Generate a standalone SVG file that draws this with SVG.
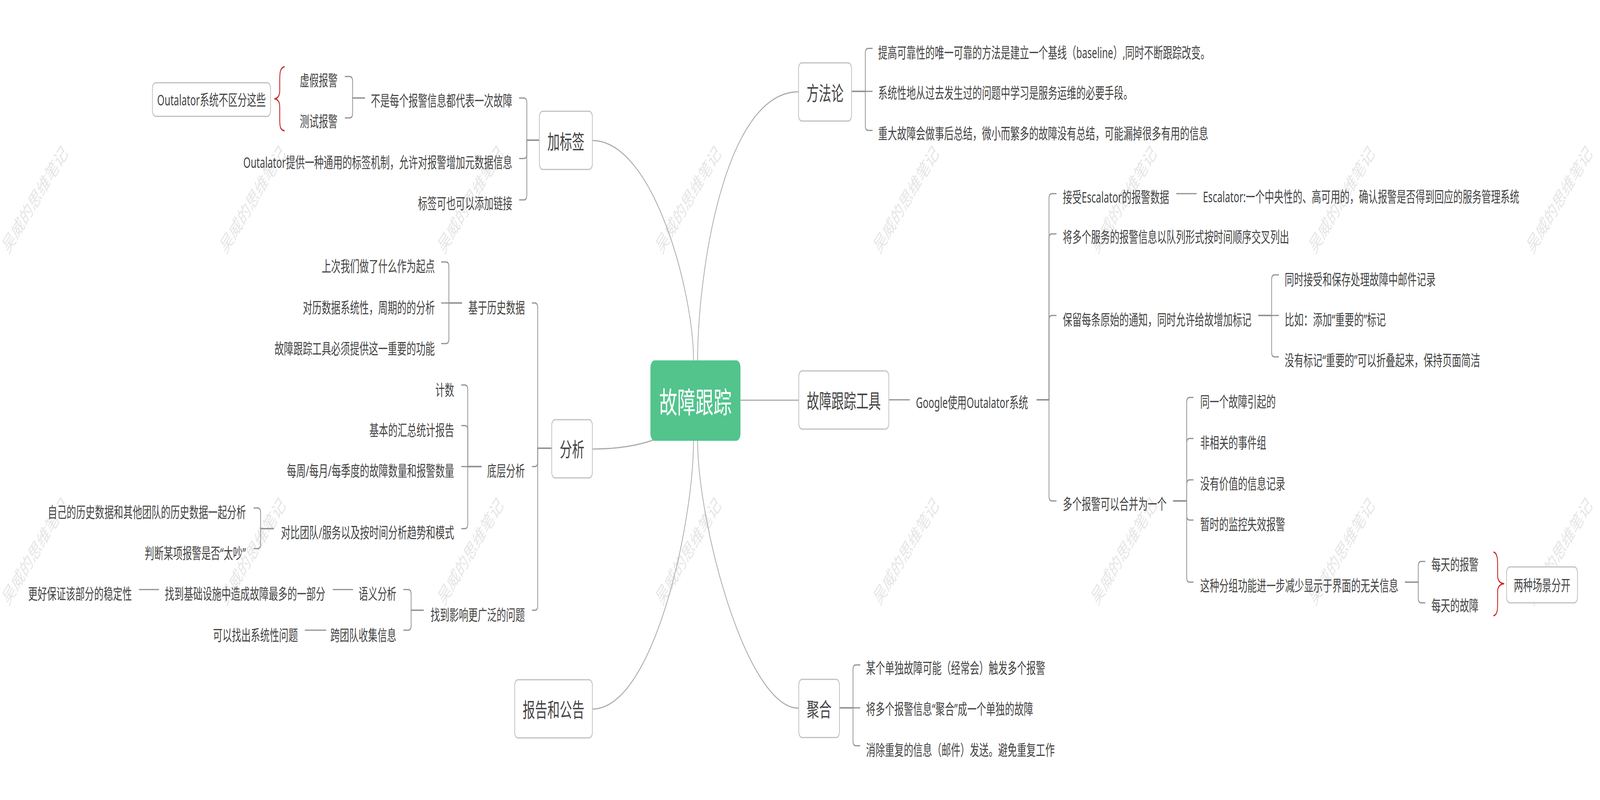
<svg xmlns="http://www.w3.org/2000/svg" width="6612" height="2049" viewBox="0 0 6612 2049" preserveAspectRatio="none">
<style>
svg{width:100vw;height:100vh;overflow:hidden}
.t{font-family:'Noto Sans','Noto Sans CJK SC',sans-serif;font-size:39px;fill:#444}
.e{text-anchor:end}
.b{font-size:51px;text-anchor:middle}
.box{fill:#fff;stroke:#c0c0c0;stroke-width:3}
.c{fill:none;stroke:#909090;stroke-width:3}
.m{fill:none;stroke:#ababab;stroke-width:3}
.br{fill:none;stroke:#c62828;stroke-width:3.5}
.wm{font-family:'Noto Sans CJK SC',sans-serif;font-size:51px;fill:#e6e6e6;text-anchor:middle;dominant-baseline:central}
</style>
<rect width="6612" height="2049" fill="#fff"/>
<g id="watermarks">
<text class="wm" x="142" y="508" transform="rotate(-46 142 508)">吴威的思维笔记</text>
<text class="wm" x="1042" y="508" transform="rotate(-46 1042 508)">吴威的思维笔记</text>
<text class="wm" x="1942" y="508" transform="rotate(-46 1942 508)">吴威的思维笔记</text>
<text class="wm" x="2842" y="508" transform="rotate(-46 2842 508)">吴威的思维笔记</text>
<text class="wm" x="3742" y="508" transform="rotate(-46 3742 508)">吴威的思维笔记</text>
<text class="wm" x="4642" y="508" transform="rotate(-46 4642 508)">吴威的思维笔记</text>
<text class="wm" x="5542" y="508" transform="rotate(-46 5542 508)">吴威的思维笔记</text>
<text class="wm" x="6442" y="508" transform="rotate(-46 6442 508)">吴威的思维笔记</text>
<text class="wm" x="142" y="1409" transform="rotate(-46 142 1409)">吴威的思维笔记</text>
<text class="wm" x="1042" y="1409" transform="rotate(-46 1042 1409)">吴威的思维笔记</text>
<text class="wm" x="1942" y="1409" transform="rotate(-46 1942 1409)">吴威的思维笔记</text>
<text class="wm" x="2842" y="1409" transform="rotate(-46 2842 1409)">吴威的思维笔记</text>
<text class="wm" x="3742" y="1409" transform="rotate(-46 3742 1409)">吴威的思维笔记</text>
<text class="wm" x="4642" y="1409" transform="rotate(-46 4642 1409)">吴威的思维笔记</text>
<text class="wm" x="5542" y="1409" transform="rotate(-46 5542 1409)">吴威的思维笔记</text>
<text class="wm" x="6442" y="1409" transform="rotate(-46 6442 1409)">吴威的思维笔记</text>
</g>
<g id="connectors">
<path class="m" d="M2448,360 C2699,360 2866,746 2866,923"/>
<path class="m" d="M3301,235 C2990,235 2883,707 2883,923"/>
<path class="m" d="M2448,1150 C2560,1150 2640,1140 2700,1127"/>
<path class="m" d="M2448,1816 C2700,1816 2866,1342 2866,1128"/>
<path class="m" d="M3301,1814 C3085,1814 2883,1342 2883,1128"/>
<path class="m" d="M3060,1025 H3301"/>
<path class="c" d="M2231,359 H2177 V263 Q2177,251 2165,251 H2145"/>
<path class="c" d="M2231,359 H2177 V394 Q2177,406 2165,406 H2145"/>
<path class="c" d="M2231,359 H2177 V500 Q2177,512 2165,512 H2145"/>
<path class="c" d="M1508,251 H1457 V208 Q1457,196 1445,196 H1425"/>
<path class="c" d="M1508,251 H1457 V290 Q1457,302 1445,302 H1425"/>
<path class="c" d="M2280,1148 H2222 V788 Q2222,776 2210,776 H2198"/>
<path class="c" d="M2280,1148 H2222 V1183 Q2222,1195 2210,1195 H2198"/>
<path class="c" d="M2280,1148 H2222 V1551 Q2222,1563 2210,1563 H2198"/>
<path class="c" d="M1909,776 H1855 V683 Q1855,671 1843,671 H1823"/>
<path class="c" d="M1909,776 H1823"/>
<path class="c" d="M1909,776 H1855 V868 Q1855,880 1843,880 H1823"/>
<path class="c" d="M1990,1195 H1933 V998 Q1933,986 1921,986 H1906"/>
<path class="c" d="M1990,1195 H1933 V1102 Q1933,1090 1921,1090 H1906"/>
<path class="c" d="M1990,1195 H1906"/>
<path class="c" d="M1990,1195 H1933 V1342 Q1933,1354 1921,1354 H1906"/>
<path class="c" d="M1132,1354 H1077 V1313 Q1077,1301 1065,1301 H1048"/>
<path class="c" d="M1132,1354 H1077 V1393 Q1077,1405 1065,1405 H1048"/>
<path class="c" d="M1751,1563 H1699 V1522 Q1699,1510 1687,1510 H1667"/>
<path class="c" d="M1751,1563 H1699 V1602 Q1699,1614 1687,1614 H1667"/>
<path class="c" d="M1459,1510 H1375"/>
<path class="c" d="M657,1510 H574"/>
<path class="c" d="M1348,1614 H1260"/>
<path class="c" d="M3520,234 H3576 V136 Q3576,124 3588,124 H3606"/>
<path class="c" d="M3520,234 H3606"/>
<path class="c" d="M3520,234 H3576 V322 Q3576,334 3588,334 H3606"/>
<path class="c" d="M3673,1024 H3760"/>
<path class="c" d="M4284,1024 H4335 V508 Q4335,496 4347,496 H4366"/>
<path class="c" d="M4284,1024 H4335 V611 Q4335,599 4347,599 H4366"/>
<path class="c" d="M4284,1024 H4335 V820 Q4335,808 4347,808 H4366"/>
<path class="c" d="M4284,1024 H4335 V1271 Q4335,1283 4347,1283 H4366"/>
<path class="c" d="M4861,496 H4945"/>
<path class="c" d="M5200,808 H5255 V716 Q5255,704 5267,704 H5285"/>
<path class="c" d="M5200,808 H5285"/>
<path class="c" d="M5200,808 H5255 V902 Q5255,914 5267,914 H5285"/>
<path class="c" d="M4848,1283 H4904 V1030 Q4904,1018 4916,1018 H4932"/>
<path class="c" d="M4848,1283 H4904 V1135 Q4904,1123 4916,1123 H4932"/>
<path class="c" d="M4848,1283 H4904 V1241 Q4904,1229 4916,1229 H4932"/>
<path class="c" d="M4848,1283 H4904 V1320 Q4904,1332 4916,1332 H4932"/>
<path class="c" d="M4848,1283 H4904 V1479 Q4904,1491 4916,1491 H4932"/>
<path class="c" d="M5806,1491 H5861 V1450 Q5861,1438 5873,1438 H5890"/>
<path class="c" d="M5806,1491 H5861 V1532 Q5861,1544 5873,1544 H5890"/>
<path class="c" d="M3467,1813 H3525 V1715 Q3525,1703 3537,1703 H3555"/>
<path class="c" d="M3467,1813 H3555"/>
<path class="c" d="M3467,1813 H3525 V1898 Q3525,1910 3537,1910 H3555"/>
<path class="br" d="M1176,171 C1158,173 1156,185 1156,205 L1156,232 C1156,246 1148,252 1134,253 C1148,254 1156,260 1156,274 L1156,305 C1156,325 1158,333 1176,335"/>
<path class="br" d="M6172,1414 C6186,1416 6189,1428 6189,1448 L6189,1474 C6189,1487 6198,1494 6216,1495 C6198,1496 6189,1503 6189,1516 L6189,1545 C6189,1565 6186,1575 6172,1577"/>
</g>
<g id="center">
<rect x="2688" y="923" width="372" height="206" rx="18" fill="#52c48c"/>
<text class="t" x="2874" y="1058" style="font-size:75px;fill:#fff;text-anchor:middle">故障跟踪</text>
</g>
<g id="n-jbq"><rect class="box" x="2229" y="285" width="219" height="149" rx="14"/><text class="t b" x="2338.5" y="382">加标签</text></g>
<g id="n-ffl"><rect class="box" x="3300" y="161" width="219" height="149" rx="14"/><text class="t b" x="3409.5" y="258">方法论</text></g>
<g id="n-gzgj"><rect class="box" x="3301" y="950" width="372" height="149" rx="14"/><text class="t b" x="3487" y="1046">故障跟踪工具</text></g>
<g id="n-fx"><rect class="box" x="2280" y="1075" width="168" height="149" rx="14"/><text class="t b" x="2364" y="1170">分析</text></g>
<g id="n-bg"><rect class="box" x="2127" y="1741" width="321" height="149" rx="14"/><text class="t b" x="2287.5" y="1837">报告和公告</text></g>
<g id="n-jh"><rect class="box" x="3301" y="1740" width="168" height="149" rx="14"/><text class="t b" x="3385" y="1836">聚合</text></g>
<g id="n-bsm"><text class="t e" x="2117" y="272">不是每个报警信息都代表一次故障</text></g>
<g id="n-xj"><text class="t e" x="1395" y="220">虚假报警</text></g>
<g id="n-cs"><text class="t e" x="1395" y="325">测试报警</text></g>
<g id="n-otl"><rect class="box" x="630" y="212" width="488" height="86" rx="14"/><text class="t" x="874" y="270" style="text-anchor:middle">Outalator系统不区分这些</text></g>
<g id="n-otl2"><text class="t e" x="2117" y="430">Outalator提供一种通用的标签机制，允许对报警增加元数据信息</text></g>
<g id="n-lj"><text class="t e" x="2117" y="535">标签可也可以添加链接</text></g>
<g id="n-jyls"><text class="t e" x="2169" y="802">基于历史数据</text></g>
<g id="n-scwm"><text class="t e" x="1797" y="696">上次我们做了什么作为起点</text></g>
<g id="n-dls"><text class="t e" x="1797" y="802">对历数据系统性，周期的的分析</text></g>
<g id="n-bxtg"><text class="t e" x="1797" y="907">故障跟踪工具必须提供这一重要的功能</text></g>
<g id="n-dcfx"><text class="t e" x="2169" y="1220">底层分析</text></g>
<g id="n-js"><text class="t e" x="1877" y="1013">计数</text></g>
<g id="n-hz"><text class="t e" x="1877" y="1116">基本的汇总统计报告</text></g>
<g id="n-mz"><text class="t e" x="1877" y="1220">每周/每月/每季度的故障数量和报警数量</text></g>
<g id="n-db"><text class="t e" x="1877" y="1378">对比团队/服务以及按时间分析趋势和模式</text></g>
<g id="n-zj"><text class="t e" x="1016" y="1326">自己的历史数据和其他团队的历史数据一起分析</text></g>
<g id="n-pd"><text class="t e" x="1016" y="1431">判断某项报警是否“太吵”</text></g>
<g id="n-zdyx"><text class="t e" x="2169" y="1589">找到影响更广泛的问题</text></g>
<g id="n-yy"><text class="t e" x="1638" y="1535">语义分析</text></g>
<g id="n-zdjc"><text class="t e" x="1344" y="1535">找到基础设施中造成故障最多的一部分</text></g>
<g id="n-gh"><text class="t e" x="545" y="1535">更好保证该部分的稳定性</text></g>
<g id="n-ktd"><text class="t e" x="1638" y="1641">跨团队收集信息</text></g>
<g id="n-kyzc"><text class="t e" x="1231" y="1641">可以找出系统性问题</text></g>
<g id="n-tg"><text class="t" x="3629" y="149">提高可靠性的唯一可靠的方法是建立一个基线（baseline）,同时不断跟踪改变。</text></g>
<g id="n-xtx"><text class="t" x="3629" y="252">系统性地从过去发生过的问题中学习是服务运维的必要手段。</text></g>
<g id="n-zd"><text class="t" x="3629" y="356">重大故障会做事后总结，微小而繁多的故障没有总结，可能漏掉很多有用的信息</text></g>
<g id="n-google"><text class="t" x="3785" y="1045">Google使用Outalator系统</text></g>
<g id="n-js2"><text class="t" x="4392" y="519">接受Escalator的报警数据</text></g>
<g id="n-esc"><text class="t" x="4971" y="518">Escalator:一个中央性的、高可用的，确认报警是否得到回应的服务管理系统</text></g>
<g id="n-jdg"><text class="t" x="4392" y="621">将多个服务的报警信息以队列形式按时间顺序交叉列出</text></g>
<g id="n-bl"><text class="t" x="4392" y="833">保留每条原始的通知，同时允许给故增加标记</text></g>
<g id="n-ts"><text class="t" x="5309" y="730">同时接受和保存处理故障中邮件记录</text></g>
<g id="n-br"><text class="t" x="5309" y="833">比如：添加“重要的”标记</text></g>
<g id="n-my"><text class="t" x="5309" y="937">没有标记“重要的”可以折叠起来，保持页面简洁</text></g>
<g id="n-dgbj"><text class="t" x="4392" y="1305">多个报警可以合并为一个</text></g>
<g id="n-ty"><text class="t" x="4960" y="1043">同一个故障引起的</text></g>
<g id="n-fxg"><text class="t" x="4960" y="1148">非相关的事件组</text></g>
<g id="n-myjz"><text class="t" x="4960" y="1253">没有价值的信息记录</text></g>
<g id="n-zs"><text class="t" x="4960" y="1357">暂时的监控失效报警</text></g>
<g id="n-zzfz"><text class="t" x="4960" y="1514">这种分组功能进一步减少显示于界面的无关信息</text></g>
<g id="n-mtbj"><text class="t" x="5915" y="1460">每天的报警</text></g>
<g id="n-mtgz"><text class="t" x="5915" y="1565">每天的故障</text></g>
<g id="n-lzcj"><rect class="box" x="6226" y="1452" width="293" height="92" rx="14"/><text class="t" x="6372.5" y="1513" style="text-anchor:middle">两种场景分开</text></g>
<g id="n-mg"><text class="t" x="3579" y="1725">某个单独故障可能（经常会）触发多个报警</text></g>
<g id="n-jdgxx"><text class="t" x="3579" y="1830">将多个报警信息“聚合”成一个单独的故障</text></g>
<g id="n-xc"><text class="t" x="3579" y="1935">消除重复的信息（邮件）发送。避免重复工作</text></g>
</svg>
